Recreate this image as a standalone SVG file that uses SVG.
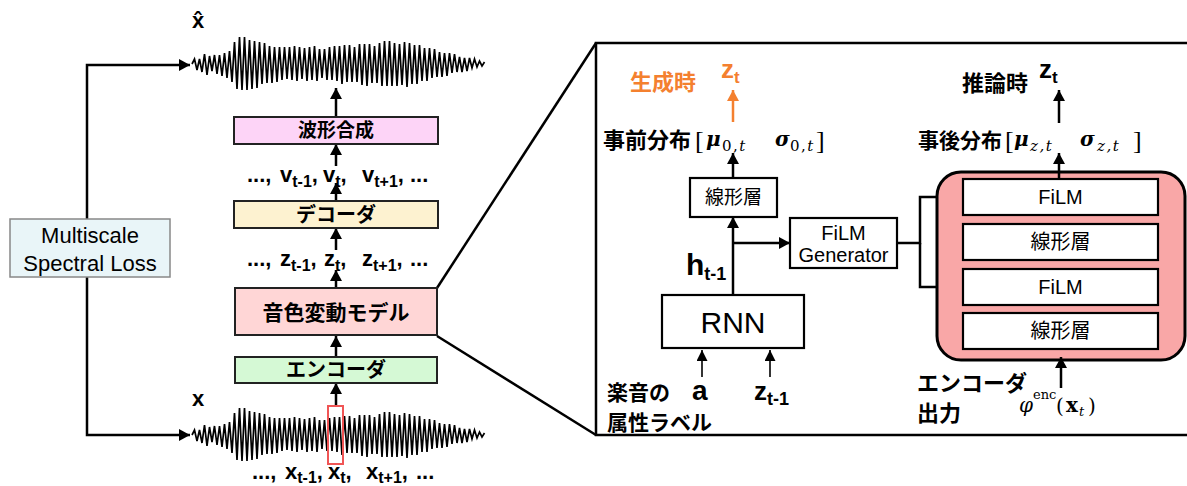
<svg xmlns="http://www.w3.org/2000/svg" width="1187" height="486" viewBox="0 0 1187 486">
<style>
.sans{font-family:'Liberation Sans','Noto Sans CJK JP',sans-serif;}
.jp{font-family:'Noto Sans CJK JP','Liberation Sans',sans-serif;}
.b{font-weight:bold;}
.ser{font-family:'DejaVu Serif','Liberation Serif',serif;}
.br{font-family:'Liberation Serif','DejaVu Serif',serif;}
.sub{font-family:'DejaVu Serif','Liberation Serif',serif;font-size:15px;letter-spacing:1.5px;}
.ln{fill:none;stroke:#000;stroke-width:2.5;}
.thin{fill:none;stroke:#000;stroke-width:1.6;}
.box{stroke:#222;stroke-width:2;}
.wbox{fill:#fff;stroke:#000;stroke-width:2.2;}
.mid{text-anchor:middle;}
.or{fill:#f4802f;}
</style>
<defs>
<marker id="ah" markerUnits="userSpaceOnUse" markerWidth="11" markerHeight="12" refX="11" refY="6" orient="auto"><path d="M0,0 L11,6 L0,12 z" fill="#000"/></marker>
<marker id="ahs" markerUnits="userSpaceOnUse" markerWidth="11" markerHeight="11" refX="11" refY="5.5" orient="auto"><path d="M0,0 L11,5.5 L0,11 z" fill="#000"/></marker>
<marker id="aho" markerUnits="userSpaceOnUse" markerWidth="11" markerHeight="12" refX="11" refY="6" orient="auto"><path d="M0,0 L11,6 L0,12 z" fill="#f4802f"/></marker>
<path id="wave" fill="none" stroke="#000" stroke-width="1.7" stroke-linejoin="miter" d="M0,0 L2.5,-5 5,6 7.5,-5 10,8 12.5,-10 15,11 17.5,-8 20,7 22.5,-9 25,10 27.5,-9 30,12 32.5,-11 35,14 37.5,-13 40,18 42.5,-22 45,25 47.5,-27 50,26 52.5,-27 55,26 57.5,-24 60,25 62.5,-23 65,24 67.5,-22 70,20 72.5,-21 75,19 77.5,-18 80,19 82.5,-17 85,18 87.5,-17 90,16 92.5,-17 95,15 97.5,-17 100,16 102.5,-18 105,17 107.5,-17 110,15 112.5,-16 115,17 117.5,-17 120,16 122.5,-18 125,17 127.5,-15 130,14 132.5,-15 135,16 137.5,-17 140,16 142.5,-18 145,17 147.5,-18 150,20 152.5,-19 155,18 157.5,-19 160,18 162.5,-17 165,18 167.5,-20 170,21 172.5,-20 175,22 177.5,-20 180,19 182.5,-18 185,19 187.5,-21 190,22 192.5,-23 195,22 197.5,-23 200,22 202.5,-21 205,22 207.5,-20 210,21 212.5,-22 215,23 217.5,-21 220,20 222.5,-19 225,20 227.5,-19 230,17 232.5,-16 235,17 237.5,-16 240,14 242.5,-15 245,13 247.5,-12 250,13 252.5,-11 255,12 257.5,-11 260,9 262.5,-10 265,8 267.5,-7 270,8 272.5,-6 275,7 277.5,-6 280,4 282.5,-5 285,3 287.5,-3 290,2 292.5,-2"/>
</defs>
<rect width="1187" height="486" fill="#fff"/>

<g id="connectors">
<path class="ln" d="M87,250 V65 H190" marker-end="url(#ah)"/>
<path class="ln" d="M87,250 V435 H190" marker-end="url(#ah)"/>
<path class="ln" d="M336,117 V88" marker-end="url(#ah)"/>
<path class="ln" d="M336,166 V144" marker-end="url(#ah)"/>
<path class="ln" d="M336,201 V183" marker-end="url(#ah)"/>
<path class="ln" d="M336,250 V228" marker-end="url(#ah)"/>
<path class="ln" d="M336,288 V270" marker-end="url(#ah)"/>
<path class="ln" d="M336,357 V336" marker-end="url(#ah)"/>
<path class="ln" d="M336,405 V383" marker-end="url(#ah)"/>
<path class="ln" d="M437,288 L596,43"/>
<path class="ln" d="M437,336 L596,435"/>
<path fill="none" stroke="#f4802f" stroke-width="2.5" d="M733,122 V90" marker-end="url(#aho)"/>
<path class="ln" d="M733,178 V153" marker-end="url(#ah)"/>
<path class="ln" d="M733,295 V217" marker-end="url(#ah)"/>
<path class="ln" d="M733,243 H790" marker-end="url(#ah)"/>
<path class="ln" d="M897,243 H920 V197 H963" marker-end="url(#ah)"/>
<path class="ln" d="M920,243 V287 H963" marker-end="url(#ah)"/>
<path class="ln" d="M1059,123 V90" marker-end="url(#ah)"/>
<path class="thin" d="M702,377 V350" marker-end="url(#ahs)"/>
<path class="thin" d="M770,377 V350" marker-end="url(#ahs)"/>
</g>

<g id="wave-out"><use href="#wave" transform="translate(192,64)"/>
<text x="192" y="28" class="sans b" font-size="22">x̂</text></g>

<g id="wave-in"><use href="#wave" transform="translate(192,435)"/>
<rect x="328" y="406" width="15" height="58" fill="none" stroke="#f05555" stroke-width="2"/>
<text x="192" y="406" class="sans b" font-size="22">x</text></g>

<g id="loss">
<rect x="10" y="219" width="160" height="58" fill="#e9f5f8" stroke="#888" stroke-width="1.5"/>
<text x="90" y="243" class="sans mid" font-size="22">Multiscale</text>
<text x="90" y="271" class="sans mid" font-size="22">Spectral Loss</text>
</g>

<g id="synth"><rect x="234" y="117" width="204" height="27" fill="#fdd4f7" class="box"/>
<text x="336" y="137" class="jp b mid" font-size="19">波形合成</text></g>

<g id="vrow"><text y="182" class="sans b" font-size="22"><tspan x="247">...,</tspan><tspan x="280">v</tspan><tspan font-size="16" dy="5">t-1</tspan><tspan dy="-5">,</tspan><tspan x="323">v</tspan><tspan font-size="16" dy="5">t</tspan><tspan dy="-5">,</tspan><tspan x="362">v</tspan><tspan font-size="16" dy="5">t+1</tspan><tspan dy="-5">,</tspan><tspan x="410">...</tspan></text></g>

<g id="decoder"><rect x="234" y="201" width="204" height="27" fill="#fdf2d0" class="box"/>
<text x="336" y="221.5" class="jp b mid" font-size="20">デコーダ</text></g>

<g id="zrow"><text y="266" class="sans b" font-size="22"><tspan x="247">...,</tspan><tspan x="280">z</tspan><tspan font-size="16" dy="5">t-1</tspan><tspan dy="-5">,</tspan><tspan x="324">z</tspan><tspan font-size="16" dy="5">t</tspan><tspan dy="-5">,</tspan><tspan x="362">z</tspan><tspan font-size="16" dy="5">t+1</tspan><tspan dy="-5">,</tspan><tspan x="410">...</tspan></text></g>

<g id="timbre"><rect x="235" y="288" width="202" height="47" fill="#ffd6d6" class="box"/>
<text x="336" y="319.5" class="jp b mid" font-size="21">音色変動モデル</text></g>

<g id="encoder"><rect x="235" y="357" width="202" height="26" fill="#d5f9d5" class="box"/>
<text x="336" y="377" class="jp b mid" font-size="20">エンコーダ</text></g>

<g id="xrow"><text y="479" class="sans b" font-size="22"><tspan x="252">...,</tspan><tspan x="285">x</tspan><tspan font-size="16" dy="4">t-1</tspan><tspan dy="-4">,</tspan><tspan x="328">x</tspan><tspan font-size="16" dy="4">t</tspan><tspan dy="-4">,</tspan><tspan x="366">x</tspan><tspan font-size="16" dy="4">t+1</tspan><tspan dy="-4">,</tspan><tspan x="416">...</tspan></text></g>

<g id="panel"><rect x="596" y="43" width="630" height="392" fill="none" stroke="#000" stroke-width="2.5"/></g>

<g id="gen-label"><text x="630" y="90" class="jp b or" font-size="22">生成時</text>
<text x="721" y="78" class="sans b or" font-size="26">z<tspan font-size="17" dy="5">t</tspan></text></g>

<g id="prior"><text x="603" y="148" class="jp b" font-size="22">事前分布</text>
<text x="695" y="149" class="br" font-size="26">[</text>
<text x="706" y="146" class="ser b" font-style="italic" font-size="20">μ</text>
<text x="722" y="151" class="sub">0,<tspan font-style="italic">t</tspan></text>
<text x="775" y="146" class="ser b" font-style="italic" font-size="20">σ</text>
<text x="790" y="151" class="sub">0,<tspan font-style="italic">t</tspan></text>
<text x="816" y="149" class="br" font-size="26">]</text></g>

<g id="linear-prior"><rect x="690" y="178" width="87" height="39" class="wbox"/>
<text x="733.5" y="204" class="jp mid" font-size="19">線形層</text></g>

<g id="film-gen"><rect x="790" y="218" width="107" height="50" class="wbox"/>
<text x="843.5" y="240" class="sans mid" font-size="20">FiLM</text>
<text x="843.5" y="262" class="sans mid" font-size="20">Generator</text></g>

<g id="h-label"><text x="686" y="275" class="sans b" font-size="30">h<tspan font-size="18" dy="5">t-1</tspan></text></g>

<g id="rnn"><rect x="662" y="295" width="142" height="53" class="wbox"/>
<text x="733" y="333" class="sans mid" font-size="30">RNN</text></g>

<g id="inputs"><text x="607" y="400" class="jp b" font-size="21">楽音の</text>
<text x="607" y="430" class="jp b" font-size="21">属性ラベル</text>
<text x="692" y="400" class="sans b" font-size="28">a</text>
<text x="754" y="400" class="sans b" font-size="26">z<tspan font-size="18" dy="5">t-1</tspan></text></g>

<g id="infer-label"><text x="962" y="91" class="jp b" font-size="22">推論時</text>
<text x="1039" y="78" class="sans b" font-size="26">z<tspan font-size="17" dy="5">t</tspan></text></g>

<g id="posterior"><text x="918" y="148" class="jp b" font-size="21">事後分布</text>
<text x="1005" y="149" class="br" font-size="26">[</text>
<text x="1014" y="146" class="ser b" font-style="italic" font-size="20">μ</text>
<text x="1030" y="151" class="sub" font-style="italic">z,t</text>
<text x="1080" y="146" class="ser b" font-style="italic" font-size="20">σ</text>
<text x="1097" y="151" class="sub" font-style="italic">z,t</text>
<text x="1133" y="149" class="br" font-size="26">]</text></g>

<g id="enc-net">
<rect x="937" y="172" width="248" height="188" rx="24" fill="#f9a7a7" stroke="#000" stroke-width="3"/>
<rect x="963" y="179" width="195" height="36" class="wbox"/>
<text x="1060.5" y="204" class="sans mid" font-size="20">FiLM</text>
<rect x="963" y="224" width="195" height="36" class="wbox"/>
<text x="1060.5" y="249" class="jp mid" font-size="20">線形層</text>
<rect x="963" y="269" width="195" height="36" class="wbox"/>
<text x="1060.5" y="294" class="sans mid" font-size="20">FiLM</text>
<rect x="963" y="313" width="195" height="36" class="wbox"/>
<text x="1060.5" y="338" class="jp mid" font-size="20">線形層</text>
</g>
<g id="connectors-top">
<path class="ln" d="M1059,179 V153" marker-end="url(#ah)"/>
<path class="ln" d="M1061,388 V357" marker-end="url(#ah)"/>
</g>

<g id="enc-out"><text x="917" y="391" class="jp b" font-size="22">エンコーダ</text>
<text x="917" y="421" class="jp b" font-size="22">出力</text>
<text x="1019" y="412" class="ser" font-style="italic" font-size="20">φ</text>
<text x="1033" y="399" class="ser" font-size="13">enc</text>
<text x="1056" y="413" class="ser" font-size="20">(</text>
<text x="1066" y="412" class="ser b" font-size="20">x</text>
<text x="1079" y="416" class="ser" font-style="italic" font-size="13">t</text>
<text x="1088" y="413" class="ser" font-size="20">)</text></g>
</svg>
